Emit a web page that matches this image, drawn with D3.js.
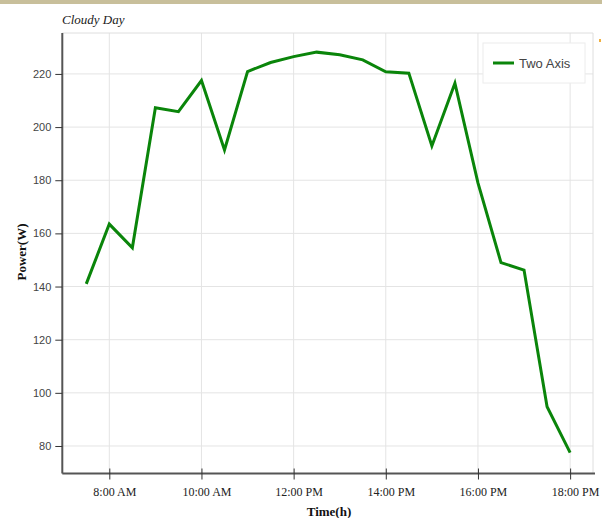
<!DOCTYPE html>
<html><head><meta charset="utf-8">
<script src="https://cdn.jsdelivr.net/npm/d3@7/dist/d3.min.js"></script>
<style>
body{margin:0;background:#fff;}
svg{display:block;}
</style></head>
<body>
<svg id="c" width="602" height="518"></svg>
<script>
const times = [7.5,8,8.5,9,9.5,10,10.5,11,11.5,12,12.5,13,13.5,14,14.5,15,15.5,16,16.5,17,17.5,18];
const power = [141,163.5,154.6,207.3,205.8,217.5,191.4,220.9,224.3,226.5,228.2,227.2,225.3,220.8,220.3,192.9,216.5,179,149,146.2,94.8,77.5];
const xTicks = [8,10,12,14,16,18];
const xTickLabels = ["8:00 AM","10:00 AM","12:00 PM","14:00 PM","16:00 PM","18:00 PM"];
const yTicks = [80,100,120,140,160,180,200,220];
const seriesName = "Two Axis";
const title = "Cloudy Day";

const svg = d3.select("#c");
const L=62.3, R=595, T=33, B=473.5;
const x = d3.scaleLinear().domain([6.98,18.54]).range([L,R]);
const y = d3.scaleLinear().domain([69.65,235.4]).range([B,T]);

// top beige strip
svg.append("rect").attr("x",0).attr("y",0).attr("width",602).attr("height",4).attr("fill","#c8bf9b");

// grid
const g = svg.append("g");
g.selectAll(".vg").data(xTicks).enter().append("line")
 .attr("x1",d=>x(d)).attr("x2",d=>x(d)).attr("y1",T).attr("y2",B)
 .attr("stroke","#e4e4e4").attr("stroke-width",1);
g.selectAll(".hg").data(yTicks).enter().append("line")
 .attr("x1",L).attr("x2",R-2).attr("y1",d=>y(d)).attr("y2",d=>y(d))
 .attr("stroke","#e4e4e4").attr("stroke-width",1);
// top & right border
g.append("line").attr("x1",L).attr("x2",R-2).attr("y1",T).attr("y2",T).attr("stroke","#dedede");
g.append("line").attr("x1",R-2).attr("x2",R-2).attr("y1",T).attr("y2",B).attr("stroke","#dedede");

// line
const line = d3.line().x((d,i)=>x(times[i])).y(d=>y(d));
svg.append("path").datum(power).attr("d",line).attr("fill","none")
 .attr("stroke","#0a850a").attr("stroke-width",3).attr("stroke-linejoin","miter");

// axes
const xa = svg.append("g").attr("transform",`translate(0,${B})`)
 .call(d3.axisBottom(x).tickValues(xTicks).tickSize(6).tickPadding(8).tickFormat((d,i)=>xTickLabels[i]));
xa.select(".domain").attr("stroke","#555").attr("stroke-width",2).attr("d",`M${L},0H${R}`);
xa.selectAll(".tick line").attr("stroke","#333").attr("y1",-5);
xa.selectAll(".tick text").attr("font-family","Liberation Serif, Times New Roman, serif").attr("font-size",12).attr("fill","#222").attr("dx",5);

const ya = svg.append("g").attr("transform",`translate(${L},0)`)
 .call(d3.axisLeft(y).tickValues(yTicks).tickSize(7).tickPadding(4));
ya.select(".domain").attr("stroke","#555").attr("stroke-width",2).attr("d",`M0,${T}V${B}`);
ya.selectAll(".tick line").attr("stroke","#333");
ya.selectAll(".tick text").attr("font-family","Liberation Sans, Arial, sans-serif").attr("font-size",11).attr("fill","#444");

// titles
svg.append("text").attr("x",62).attr("y",24).text(title)
 .attr("font-family","Liberation Serif, Times New Roman, serif").attr("font-style","italic").attr("font-size",13).attr("fill","#222");
svg.append("text").attr("x",329).attr("y",516).attr("text-anchor","middle").text("Time(h)")
 .attr("font-family","Liberation Serif, Times New Roman, serif").attr("font-weight","bold").attr("font-size",13).attr("fill","#111");
svg.append("text").attr("transform","translate(26,252) rotate(-90)").attr("text-anchor","middle").text("Power(W)")
 .attr("font-family","Liberation Serif, Times New Roman, serif").attr("font-weight","bold").attr("font-size",13).attr("fill","#111");

// legend
const lg = svg.append("g");
lg.append("rect").attr("x",483).attr("y",43).attr("width",102).attr("height",40).attr("fill","#fff").attr("stroke","#ececec");
lg.append("line").attr("x1",493).attr("x2",514).attr("y1",63).attr("y2",63).attr("stroke","#0a850a").attr("stroke-width",3);
lg.append("text").attr("x",519).attr("y",67.5).text(seriesName)
 .attr("font-family","Liberation Sans, Arial, sans-serif").attr("font-size",13).attr("fill","#444");
// small orange mark at right edge
svg.append("rect").attr("x",599).attr("y",39).attr("width",2).attr("height",3).attr("fill","#f0b040");
</script>
</body></html>
